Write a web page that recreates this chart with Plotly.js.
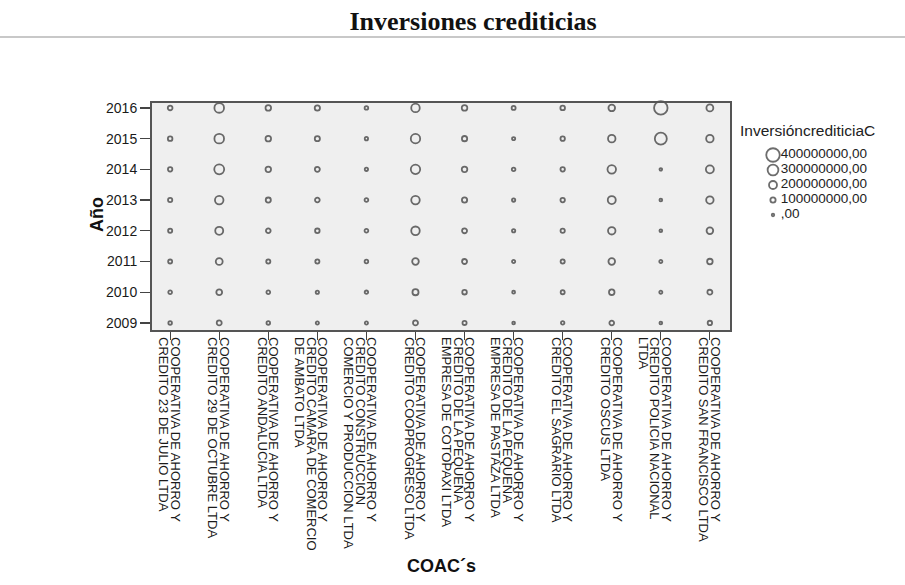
<!DOCTYPE html>
<html>
<head>
<meta charset="utf-8">
<script src="https://cdn.plot.ly/plotly-3.0.1.min.js"></script>
<style>html,body{margin:0;padding:0;background:#fff;}#chart{width:905px;height:585px;}</style>
</head>
<body>
<div id="chart"></div>
<script>
// ---- data ----
var years = [2009, 2010, 2011, 2012, 2013, 2014, 2015, 2016];

var categories = [
  "COOPERATIVA DE AHORRO Y<br>CREDITO 23 DE JULIO LTDA",
  "COOPERATIVA DE AHORRO Y<br>CREDITO 29 DE OCTUBRE LTDA",
  "COOPERATIVA DE AHORRO Y<br>CREDITO ANDALUCIA LTDA",
  "COOPERATIVA DE AHORRO Y<br>CREDITO CAMARA DE COMERCIO<br>DE AMBATO LTDA",
  "COOPERATIVA DE AHORRO Y<br>CREDITO CONSTRUCCION<br>COMERCIO Y PRODUCCION LTDA",
  "COOPERATIVA DE AHORRO Y<br>CREDITO COOPROGRESO LTDA",
  "COOPERATIVA DE AHORRO Y<br>CREDITO DE LA PEQUEÑA<br>EMPRESA DE COTOPAXI LTDA",
  "COOPERATIVA DE AHORRO Y<br>CREDITO DE LA PEQUEÑA<br>EMPRESA DE PASTAZA LTDA",
  "COOPERATIVA DE AHORRO Y<br>CREDITO EL SAGRARIO LTDA",
  "COOPERATIVA DE AHORRO Y<br>CREDITO OSCUS LTDA",
  "COOPERATIVA DE AHORRO Y<br>CREDITO POLICIA NACIONAL<br>LTDA",
  "COOPERATIVA DE AHORRO Y<br>CREDITO SAN FRANCISCO LTDA"
];

// Inversión crediticia per year (2009..2016)
var inv23Julio       = [40e6, 45e6, 55e6, 60e6, 65e6, 70e6, 75e6, 80e6];
var inv29Octubre     = [90e6, 120e6, 160e6, 200e6, 220e6, 270e6, 260e6, 260e6];
var invAndalucia     = [40e6, 45e6, 60e6, 80e6, 95e6, 110e6, 110e6, 110e6];
var invCamaraAmbato  = [25e6, 30e6, 60e6, 75e6, 80e6, 90e6, 95e6, 100e6];
var invConstruccion  = [25e6, 35e6, 40e6, 45e6, 45e6, 30e6, 30e6, 40e6];
var invCooprogreso   = [90e6, 130e6, 150e6, 220e6, 220e6, 250e6, 250e6, 220e6];
var invCotopaxi      = [60e6, 75e6, 90e6, 90e6, 100e6, 110e6, 100e6, 110e6];
var invPastaza       = [10e6, 15e6, 25e6, 30e6, 30e6, 40e6, 25e6, 55e6];
var invSagrario      = [35e6, 55e6, 60e6, 65e6, 70e6, 70e6, 70e6, 75e6];
var invOscus         = [80e6, 110e6, 150e6, 180e6, 200e6, 220e6, 180e6, 150e6];
var invPolicia       = [10e6, 20e6, 20e6, 10e6, 10e6, 5e6, 345e6, 400e6];
var invSanFrancisco  = [70e6, 90e6, 110e6, 150e6, 180e6, 200e6, 180e6, 160e6];

var legendValues = [400000000, 300000000, 200000000, 100000000, 0];
var legendLabels = ["400000000,00", "300000000,00", "200000000,00", "100000000,00", ",00"];
var legendTitle = "InversióncrediticiaC";

// ---- drawing ----
var series = [inv23Julio, inv29Octubre, invAndalucia, invCamaraAmbato, invConstruccion,
  invCooprogreso, invCotopaxi, invPastaza, invSagrario, invOscus, invPolicia, invSanFrancisco];

var catIdx = categories.map(function (c, i) { return i; });
var LW = 1.8;
function sz(v) { return 4.3 + 2.75 * v / 1e8 - LW; }
var mk = function (vals) {
  return { symbol: 'circle', color: 'rgba(0,0,0,0)', size: vals.map(sz),
           line: { color: '#303030', width: LW } };
};

var traces = series.map(function (vals, i) {
  return {
    type: 'scatter', mode: 'markers',
    x: years.map(function () { return catIdx[i]; }),
    y: years, marker: mk(vals), showlegend: false,
    text: years.map(function () { return categories[i].replace(/<br>/g, ' '); }),
    xaxis: 'x', yaxis: 'y', cliponaxis: false, hoverinfo: 'text+y'
  };
});

var legY = legendValues.map(function (v, i) { return legendValues.length - 1 - i; });
traces.push({
  type: 'scatter', mode: 'markers', x: legendValues.map(function () { return 0; }), y: legY,
  marker: mk(legendValues), xaxis: 'x2', yaxis: 'y2', showlegend: false, cliponaxis: false, hoverinfo: 'skip'
});
traces.push({
  type: 'scatter', mode: 'text', x: legendValues.map(function () { return 1.1; }), y: legY,
  text: legendLabels, textposition: 'middle right',
  textfont: { family: 'Liberation Sans, Arial, sans-serif', size: 13.5, color: '#222' },
  xaxis: 'x2', yaxis: 'y2', showlegend: false, cliponaxis: false, hoverinfo: 'skip'
});

var W = 905, H = 585;
var px = function (v) { return v / W; };
var py = function (v) { return 1 - v / H; };

var X0 = 152, X1 = 730;
var R0 = -0.37, R1 = 11.41;
var unitPx = (X1 - X0) / (R1 - R0);
var tickFont = { family: 'Liberation Sans, Arial, sans-serif', size: 13, color: '#1a1a1a' };

// split each category label into its wrapped lines; each line row goes on its own overlaid axis
var labelLines = categories.map(function (c) { return c.split('<br>'); });
var lineOffsets = [5, -6.5, -18]; // px offset of each wrapped line from the tick

var layout = {
  width: W, height: H,
  margin: { l: 0, r: 0, t: 0, b: 0 },
  paper_bgcolor: '#ffffff',
  plot_bgcolor: 'rgba(0,0,0,0)',
  showlegend: false,
  title: {
    text: '<b>Inversiones crediticias</b>',
    font: { family: 'Liberation Serif, Times New Roman, serif', size: 26, color: '#111' },
    x: px(473), xanchor: 'center', xref: 'container',
    y: py(21), yanchor: 'middle', yref: 'container'
  },
  xaxis: {
    domain: [px(X0), px(X1)], range: [R0, R1],
    tickvals: catIdx, showticklabels: false,
    ticks: 'outside', ticklen: 8, tickwidth: 1.2, tickcolor: '#444',
    showline: true, mirror: true, linecolor: '#555', linewidth: 2,
    showgrid: false, zeroline: false, anchor: 'y', fixedrange: true
  },
  yaxis: {
    domain: [py(330), py(103)], range: [2008.77, 2016.16],
    tickvals: years, ticktext: years.map(String),
    ticks: 'outside', ticklen: 10, tickwidth: 1.2, tickcolor: '#444',
    showline: true, mirror: true, linecolor: '#555', linewidth: 2,
    showgrid: false, zeroline: false,
    tickfont: { family: 'Liberation Sans, Arial, sans-serif', size: 14, color: '#1a1a1a' },
    anchor: 'x', fixedrange: true
  },
  xaxis2: { domain: [px(766), px(900)], range: [-1, -1 + 134 / 7], visible: false, anchor: 'y2', fixedrange: true },
  yaxis2: { domain: [py(222.5), py(147.5)], range: [-0.5, 4.5], visible: false, anchor: 'x2', fixedrange: true },
  annotations: [
    { text: '<b>Año</b>', xref: 'paper', yref: 'paper', x: px(97), y: py(215),
      textangle: -90, showarrow: false, xanchor: 'center', yanchor: 'middle',
      font: { family: 'Liberation Sans, Arial, sans-serif', size: 18, color: '#111' } },
    { text: '<b>COAC´s</b>', xref: 'paper', yref: 'paper', x: px(441), y: py(566),
      showarrow: false, xanchor: 'center', yanchor: 'middle',
      font: { family: 'Liberation Sans, Arial, sans-serif', size: 18, color: '#111' } },
    { text: legendTitle, xref: 'paper', yref: 'paper', x: px(738), y: py(130),
      showarrow: false, xanchor: 'left', yanchor: 'middle',
      font: { family: 'Liberation Sans, Arial, sans-serif', size: 15.5, color: '#222' } }
  ],
  shapes: [
    { type: 'line', xref: 'paper', yref: 'paper', x0: 0, x1: 1, y0: py(37), y1: py(37),
      line: { color: '#c8c8c8', width: 2 } },
    { type: 'rect', xref: 'x domain', yref: 'y domain', x0: 0, x1: 1, y0: 0, y1: 1,
      fillcolor: '#efefef', line: { width: 0 }, layer: 'below' }
  ]
};

lineOffsets.forEach(function (off, k) {
  var shift = off / unitPx;
  var vals = [], txt = [];
  labelLines.forEach(function (lines, i) {
    if (lines[k]) { vals.push(i); txt.push(lines[k]); }
  });
  var axName = 'xaxis' + (k + 3);
  layout[axName] = {
    overlaying: 'x', anchor: 'y', side: 'bottom', domain: [px(X0), px(X1)],
    range: [R0 - shift, R1 - shift], tickmode: 'array', tickvals: vals, ticktext: txt,
    tickangle: 90, ticks: '', ticklen: 0, showline: false, showgrid: false, zeroline: false,
    tickfont: tickFont, ticklabelstandoff: 6, fixedrange: true
  };
  // empty carrier trace so the overlaid label axis is drawn
  traces.push({ type: 'scatter', mode: 'markers', x: vals, y: vals.map(function () { return null; }),
    xaxis: 'x' + (k + 3), yaxis: 'y', showlegend: false, hoverinfo: 'skip' });
});

Plotly.newPlot('chart', traces, layout, { displayModeBar: false, staticPlot: true });
</script>
</body>
</html>
